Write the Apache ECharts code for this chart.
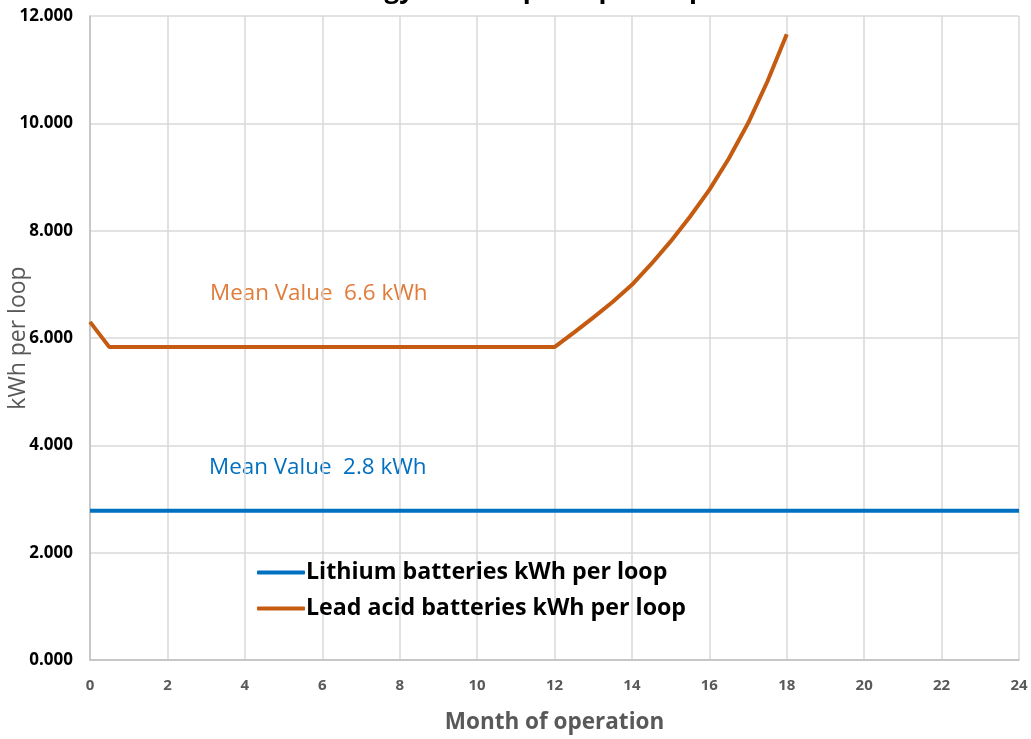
<!DOCTYPE html>
<html>
<head>
<meta charset="utf-8">
<script src="https://cdn.jsdelivr.net/npm/echarts@6/dist/echarts.min.js"></script>
<style>html,body{margin:0;padding:0;background:#fff}#c{width:1031px;height:739px}</style>
</head>
<body>
<div id="c"></div>
<script>
var titleText = 'Energy consumption per loop';
var xTicks = [0, 2, 4, 6, 8, 10, 12, 14, 16, 18, 20, 22, 24];
var lithiumMonths = [0, 24];
var lithiumValues = [2.78, 2.78];
var leadMonths = [0, 0.5, 12, 12.5, 13, 13.5, 14, 14.5, 15, 15.5, 16, 16.5, 17, 17.5, 18];
var leadValues = [6.3, 5.83, 5.83, 6.1, 6.38, 6.67, 6.99, 7.38, 7.8, 8.26, 8.76, 9.34, 10.0, 10.78, 11.66];
var seriesNames = ['Lithium batteries kWh per loop', 'Lead acid batteries kWh per loop'];
var meanLabels = ['Mean Value  6.6 kWh', 'Mean Value  2.8 kWh'];

function pairs(xs, ys) { return xs.map(function (x, i) { return [x, ys[i]]; }); }

var font = 'Open Sans, Liberation Sans, sans-serif';
var chart = echarts.init(document.getElementById('c'));
chart.setOption({
  animation: false,
  title: {
    text: titleText, left: 'center', top: -27,
    textStyle: { fontFamily: font, fontWeight: 'bold', fontSize: 26, color: '#000' }
  },
  grid: { left: 90, right: 12, top: 16, bottom: 79, containLabel: false, outerBoundsMode: 'none' },
  legend: {
    orient: 'vertical', left: 252, top: 556, itemGap: 13,
    itemWidth: 48, itemHeight: 4, icon: 'roundRect',
    textStyle: { fontFamily: font, fontWeight: 'bold', fontSize: 23.2, color: '#000', padding: [0, 0, 0, -4] },
    data: seriesNames
  },
  xAxis: {
    type: 'value', min: xTicks[0], max: xTicks[xTicks.length - 1], interval: 2,
    name: 'Month of operation', nameLocation: 'middle', nameGap: 51, nameMoveOverlap: false,
    nameTextStyle: { fontFamily: font, fontWeight: 'bold', fontSize: 22.5, color: '#595959' },
    axisLine: { lineStyle: { color: '#bfbfbf', width: 1.5 } },
    axisTick: { show: false },
    axisLabel: { fontFamily: font, fontWeight: 'bold', fontSize: 15, color: '#595959', margin: 18 },
    splitLine: { show: true, lineStyle: { color: '#d9d9d9', width: 1.5 } }
  },
  yAxis: {
    type: 'value', min: 0, max: 12, interval: 2,
    name: 'kWh per loop', nameLocation: 'middle', nameGap: 60, nameMoveOverlap: false,
    nameTextStyle: { fontFamily: font, fontSize: 23, color: '#595959' },
    axisLine: { show: true, lineStyle: { color: '#bfbfbf', width: 1.5 } },
    axisTick: { show: false },
    axisLabel: { fontFamily: font, fontWeight: 'bold', fontSize: 17, color: '#000', margin: 17,
      formatter: function (v) { return v.toFixed(3); } },
    splitLine: { show: true, lineStyle: { color: '#d9d9d9', width: 1.5 } }
  },
  series: [
    {
      name: seriesNames[0], type: 'line', data: pairs(lithiumMonths, lithiumValues),
      showSymbol: false, symbol: 'none', color: '#0070C0', lineStyle: { width: 4, color: '#0070C0' }
    },
    {
      name: seriesNames[1], type: 'line', data: pairs(leadMonths, leadValues),
      showSymbol: false, symbol: 'none', color: '#C55A11', lineStyle: { width: 4, color: '#C55A11' }
    }
  ],
  graphic: [
    { type: 'text', left: 210, top: 283, style: { text: meanLabels[0], fontFamily: font, fontSize: 22.4, fill: '#E07B39' } },
    { type: 'text', left: 209, top: 457, style: { text: meanLabels[1], fontFamily: font, fontSize: 22.4, fill: '#0070C0' } }
  ]
});
</script>
</body>
</html>
